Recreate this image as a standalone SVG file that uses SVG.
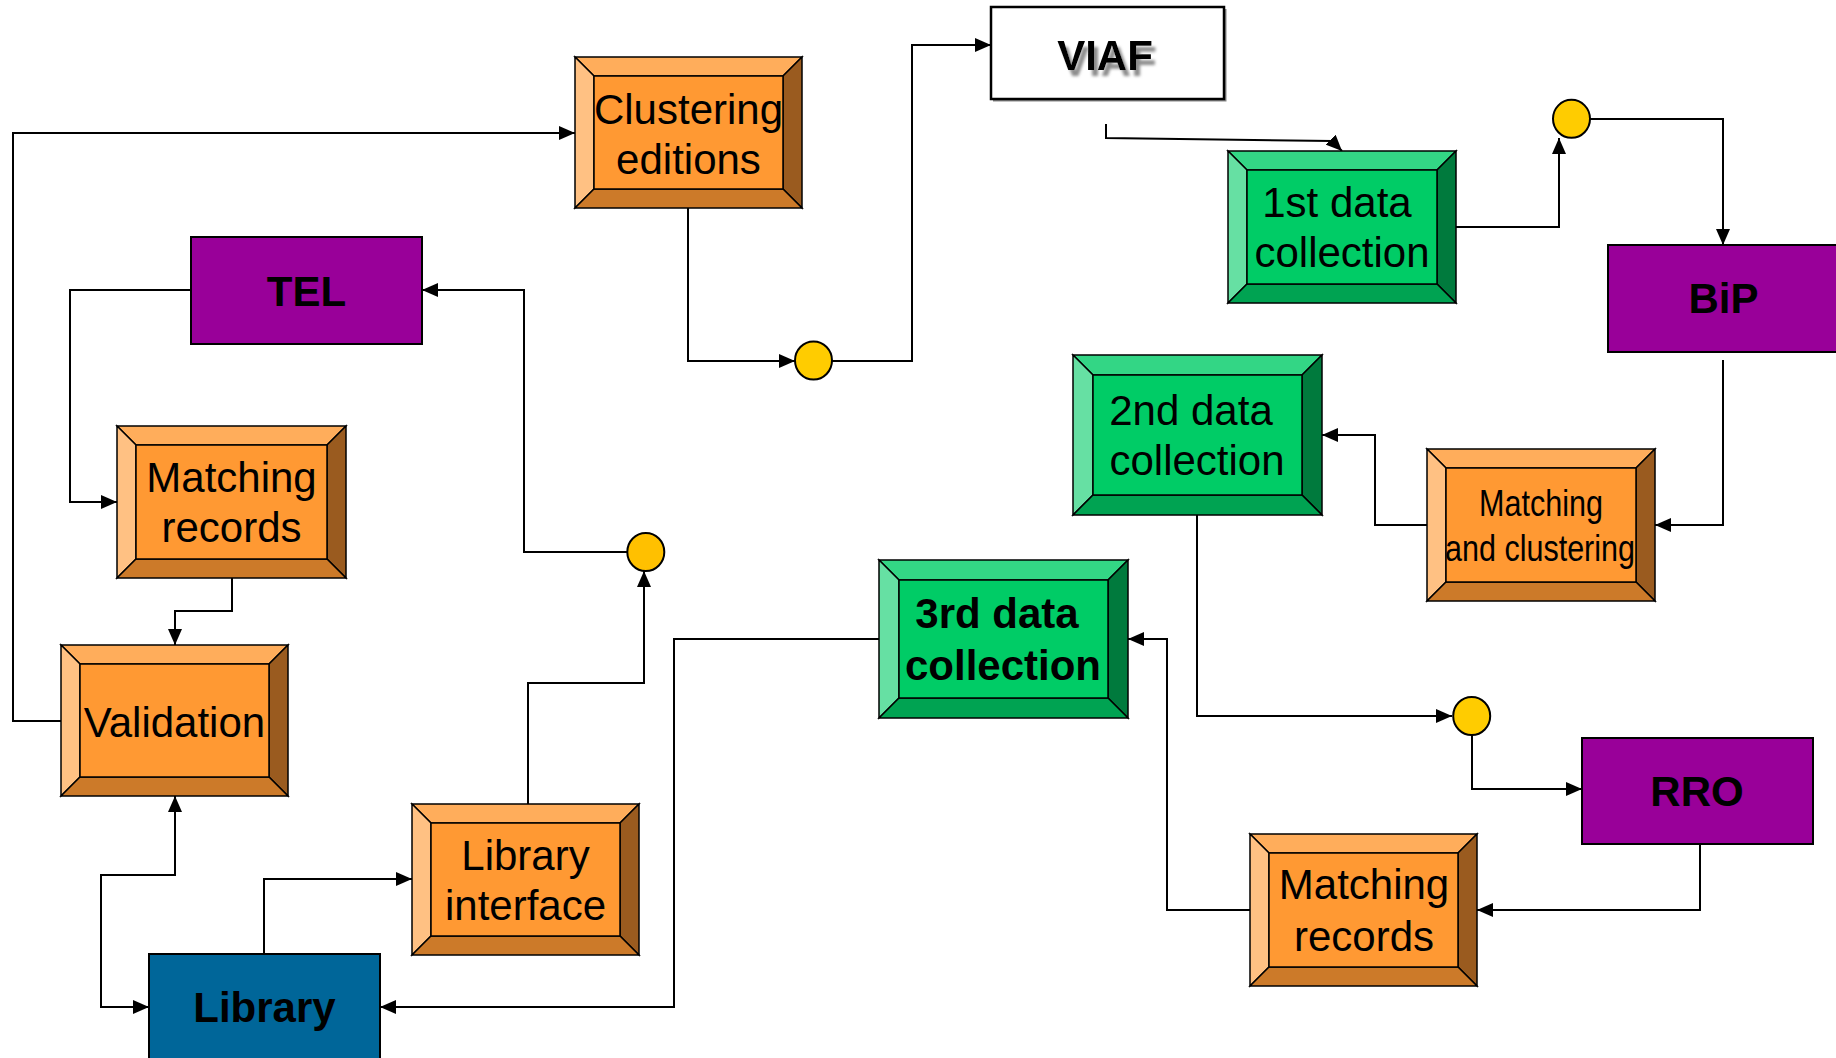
<svg xmlns="http://www.w3.org/2000/svg" width="1836" height="1058" viewBox="0 0 1836 1058">
<style>
.t{font-family:"Liberation Sans",Arial,sans-serif;font-size:42px;text-anchor:middle;fill:#000}
.b{font-weight:bold}
.o-top{fill:#FFAD5B}.o-left{fill:#FFC183}.o-mid{fill:#FF9933}.o-right{fill:#9A5B1F}.o-bot{fill:#CC7A29}
.g-top{fill:#33D685}.g-left{fill:#66E0A3}.g-mid{fill:#00CC66}.g-right{fill:#007A3D}.g-bot{fill:#00A352}
.bev polygon,.bev rect{stroke:#000;stroke-width:1.5;stroke-linejoin:miter}
.plain{stroke:#000;stroke-width:2}
.con path{fill:none;stroke:#000;stroke-width:2;marker-end:url(#arr)}
.dot{stroke:#000;stroke-width:2}
</style>
<defs>
<marker id="arr" markerUnits="userSpaceOnUse" markerWidth="16" markerHeight="14" refX="16" refY="7" orient="auto-start-reverse" viewBox="0 0 16 14">
<path d="M0,0 L16,7 L0,14 Z" fill="#000"/>
</marker>
<filter id="shadow" x="-20%" y="-30%" width="140%" height="160%">
<feGaussianBlur in="SourceAlpha" stdDeviation="1.6" result="bl"/>
<feOffset in="bl" dx="4" dy="6" result="off"/>
<feFlood flood-color="#8c8c8c"/>
<feComposite in2="off" operator="in" result="sh"/>
<feMerge><feMergeNode in="sh"/><feMergeNode in="SourceGraphic"/></feMerge>
</filter>
</defs>
<rect width="1836" height="1058" fill="#fff"/>

<g id="connectors" class="con">
<path d="M61,721 H13 V133 H575"/>
<path d="M688,208 V361 H795"/>
<path d="M832,361 H912 V45 H991"/>
<path d="M1106,124 V138 L1332,141 L1342,151"/>
<path d="M1456,227 H1559 V138"/>
<path d="M1590,119 H1723 V245"/>
<path d="M1723,360 V525 H1655"/>
<path d="M1427,525 H1375 V435 H1322"/>
<path d="M1197,515 V716 H1452"/>
<path d="M1472,735 V789 H1582"/>
<path d="M1700,844 V910 H1477"/>
<path d="M1250,910 H1167 V639 H1128"/>
<path d="M879,639 H674 V1007 H380"/>
<path d="M264,954 V879 H412"/>
<path d="M528,804 V683 H644 V571"/>
<path d="M627,552 H524 V290 H422"/>
<path d="M191,290 H70 V502 H117"/>
<path d="M232,578 V611 H175 V645"/>
<path d="M175,796 V875 H101 V1007 H149" style="marker-start:url(#arr)"/>
</g>

<g id="clustering" class="bev">
<polygon class="o-top" points="575,57 802,57 783,76 594,76"/>
<polygon class="o-left" points="575,57 594,76 594,189 575,208"/>
<polygon class="o-right" points="802,57 802,208 783,189 783,76"/>
<polygon class="o-bot" points="575,208 594,189 783,189 802,208"/>
<rect class="o-mid" x="594" y="76" width="189" height="113"/>
<text class="t" x="688.5" y="123.5">Clustering</text>
<text class="t" x="688.5" y="174">editions</text>
</g>

<g id="matching-left" class="bev">
<polygon class="o-top" points="117,426 346,426 327,445 136,445"/>
<polygon class="o-left" points="117,426 136,445 136,559 117,578"/>
<polygon class="o-right" points="346,426 346,578 327,559 327,445"/>
<polygon class="o-bot" points="117,578 136,559 327,559 346,578"/>
<rect class="o-mid" x="136" y="445" width="191" height="114"/>
<text class="t" x="231.5" y="492">Matching</text>
<text class="t" x="231.5" y="542">records</text>
</g>

<g id="validation" class="bev">
<polygon class="o-top" points="61,645 288,645 269,664 80,664"/>
<polygon class="o-left" points="61,645 80,664 80,777 61,796"/>
<polygon class="o-right" points="288,645 288,796 269,777 269,664"/>
<polygon class="o-bot" points="61,796 80,777 269,777 288,796"/>
<rect class="o-mid" x="80" y="664" width="189" height="113"/>
<text class="t" x="174.5" y="736.5">Validation</text>
</g>

<g id="library-interface" class="bev">
<polygon class="o-top" points="412,804 639,804 620,823 431,823"/>
<polygon class="o-left" points="412,804 431,823 431,936 412,955"/>
<polygon class="o-right" points="639,804 639,955 620,936 620,823"/>
<polygon class="o-bot" points="412,955 431,936 620,936 639,955"/>
<rect class="o-mid" x="431" y="823" width="189" height="113"/>
<text class="t" x="525.5" y="870">Library</text>
<text class="t" x="525.5" y="920">interface</text>
</g>

<g id="matching-clustering" class="bev">
<polygon class="o-top" points="1427,449 1655,449 1636,468 1446,468"/>
<polygon class="o-left" points="1427,449 1446,468 1446,582 1427,601"/>
<polygon class="o-right" points="1655,449 1655,601 1636,582 1636,468"/>
<polygon class="o-bot" points="1427,601 1446,582 1636,582 1655,601"/>
<rect class="o-mid" x="1446" y="468" width="190" height="114"/>
<text class="t" x="1541" y="515.5" style="font-size:36px" textLength="124" lengthAdjust="spacingAndGlyphs">Matching</text>
<text class="t" x="1540" y="561" style="font-size:36px" textLength="190" lengthAdjust="spacingAndGlyphs">and clustering</text>
</g>

<g id="matching-right" class="bev">
<polygon class="o-top" points="1250,834 1477,834 1458,853 1269,853"/>
<polygon class="o-left" points="1250,834 1269,853 1269,967 1250,986"/>
<polygon class="o-right" points="1477,834 1477,986 1458,967 1458,853"/>
<polygon class="o-bot" points="1250,986 1269,967 1458,967 1477,986"/>
<rect class="o-mid" x="1269" y="853" width="189" height="114"/>
<text class="t" x="1364" y="899">Matching</text>
<text class="t" x="1364" y="950.5">records</text>
</g>

<g id="data1" class="bev">
<polygon class="g-top" points="1228,151 1456,151 1437,170 1247,170"/>
<polygon class="g-left" points="1228,151 1247,170 1247,284 1228,303"/>
<polygon class="g-right" points="1456,151 1456,303 1437,284 1437,170"/>
<polygon class="g-bot" points="1228,303 1247,284 1437,284 1456,303"/>
<rect class="g-mid" x="1247" y="170" width="190" height="114"/>
<text class="t" x="1337" y="216.5">1st data</text>
<text class="t" x="1342" y="267">collection</text>
</g>

<g id="data2" class="bev">
<polygon class="g-top" points="1073,355 1322,355 1302,375 1093,375"/>
<polygon class="g-left" points="1073,355 1093,375 1093,495 1073,515"/>
<polygon class="g-right" points="1322,355 1322,515 1302,495 1302,375"/>
<polygon class="g-bot" points="1073,515 1093,495 1302,495 1322,515"/>
<rect class="g-mid" x="1093" y="375" width="209" height="120"/>
<text class="t" x="1191" y="424.5">2nd data</text>
<text class="t" x="1197" y="475">collection</text>
</g>

<g id="data3" class="bev">
<polygon class="g-top" points="879,560 1128,560 1108,580 899,580"/>
<polygon class="g-left" points="879,560 899,580 899,698 879,718"/>
<polygon class="g-right" points="1128,560 1128,718 1108,698 1108,580"/>
<polygon class="g-bot" points="879,718 899,698 1108,698 1128,718"/>
<rect class="g-mid" x="899" y="580" width="209" height="118"/>
<text class="t b" x="997" y="628">3rd data</text>
<text class="t b" x="1003" y="679.5">collection</text>
</g>

<g id="tel">
<rect class="plain" x="191" y="237" width="231" height="107" fill="#990099"/>
<text class="t b" x="306.5" y="306">TEL</text>
</g>

<g id="bip">
<rect class="plain" x="1608" y="245" width="240" height="107" fill="#990099"/>
<text class="t b" x="1723.5" y="312.5">BiP</text>
</g>

<g id="rro">
<rect class="plain" x="1582" y="738" width="231" height="106" fill="#990099"/>
<text class="t b" x="1697" y="806">RRO</text>
</g>

<g id="library">
<rect class="plain" x="149" y="954" width="231" height="110" fill="#006699"/>
<text class="t b" x="264.5" y="1021.5">Library</text>
</g>

<g id="viaf">
<polyline points="993,100.5 1225.5,100.5 1225.5,9" fill="none" stroke="#888" stroke-width="2"/>
<rect x="991" y="7" width="233" height="92" fill="#fff" stroke="#000" stroke-width="2.5"/>
<text class="t b" x="1105" y="70" filter="url(#shadow)">VIAF</text>
</g>

<g id="junction-1"><ellipse class="dot" cx="813.5" cy="360.5" rx="18.5" ry="19" fill="#FFCC00"/></g>
<g id="junction-2"><ellipse class="dot" cx="1571.5" cy="118.8" rx="18.5" ry="19" fill="#FFCC00"/></g>
<g id="junction-3"><ellipse class="dot" cx="645.8" cy="552" rx="18.5" ry="19" fill="#FFC000"/></g>
<g id="junction-4"><ellipse class="dot" cx="1471.7" cy="716" rx="18.5" ry="19" fill="#FFCC00"/></g>
</svg>
